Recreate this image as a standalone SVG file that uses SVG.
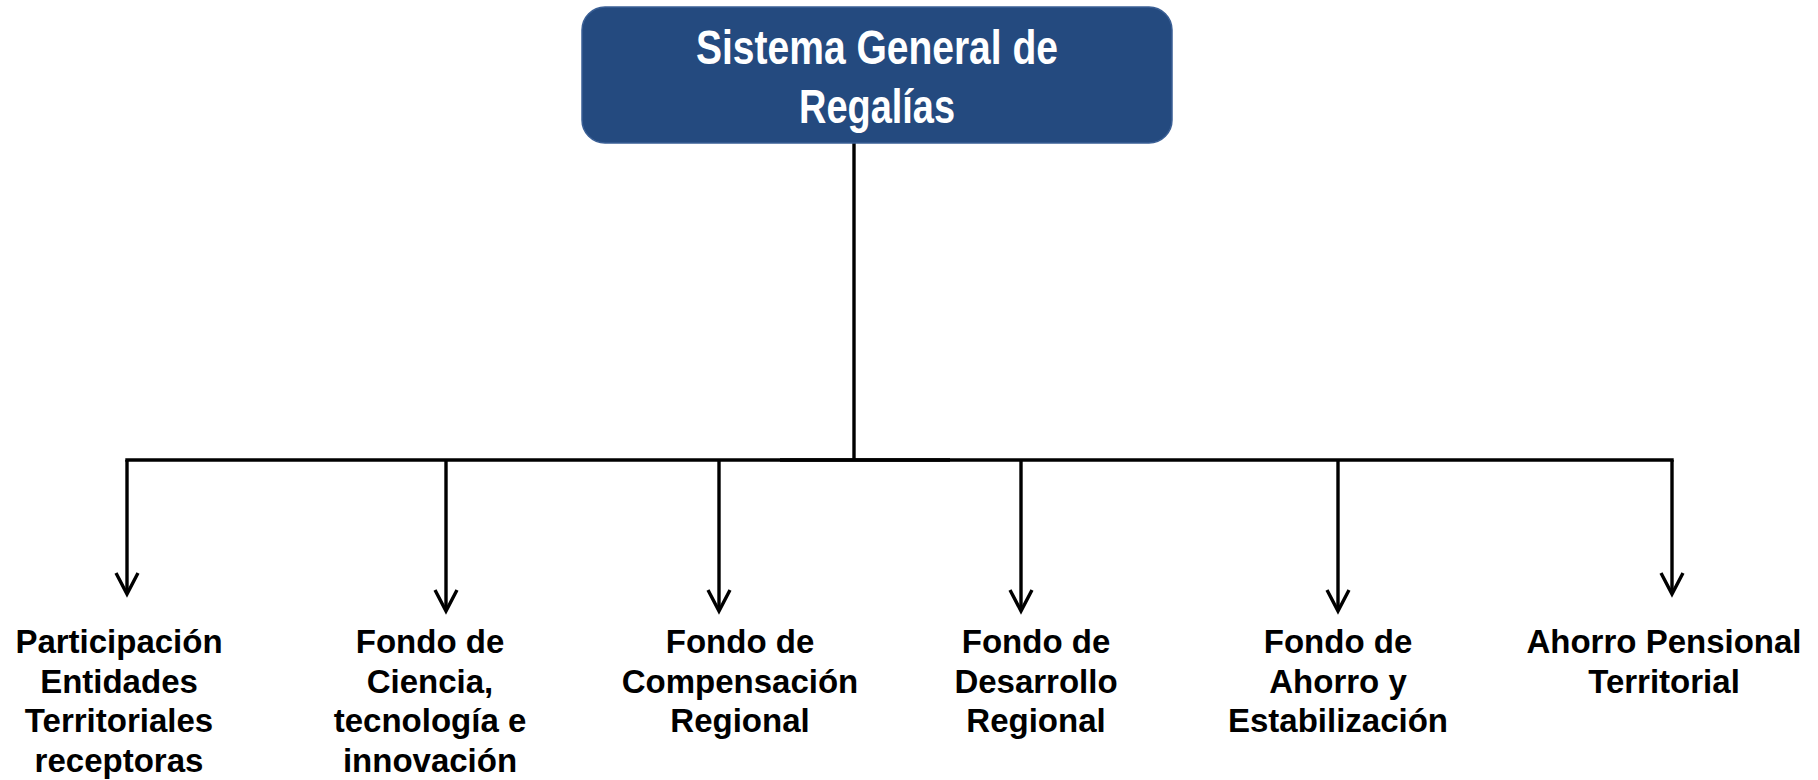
<svg xmlns="http://www.w3.org/2000/svg" width="1818" height="780" viewBox="0 0 1818 780">
  <style>
    .title { font-family: "Liberation Sans Narrow", "Arial Narrow", "Liberation Sans", Arial, sans-serif; font-weight: bold; font-size: 49px; fill: #ffffff; text-anchor: middle; }
    .label { font-family: "Liberation Sans", Arial, sans-serif; font-weight: bold; font-size: 33px; fill: #000000; text-anchor: middle; }
    .conn { stroke: #000000; stroke-width: 3.4; fill: none; }
    .arrow { stroke: #000000; stroke-width: 3.4; fill: none; marker-end: url(#open); }
  </style>
  <defs>
    <marker id="open" markerUnits="userSpaceOnUse" orient="auto" refX="-2" refY="0" markerWidth="30" markerHeight="30" viewBox="-25 -15 30 30" overflow="visible">
      <path d="M -21 -11 L 0 0 L -21 11" fill="none" stroke="#000000" stroke-width="3.4" stroke-linejoin="miter"/>
    </marker>
  </defs>
  <rect width="1818" height="780" fill="#ffffff"/>

  <g id="connectors">
    <line class="conn" x1="854" y1="143" x2="854" y2="460"/>
    <line class="conn" x1="127" y1="460" x2="1672" y2="460" stroke-linecap="square"/>
    <line class="conn" x1="780" y1="460" x2="950" y2="460" stroke-width="4.8"/>
    <line class="arrow" x1="127" y1="460" x2="127" y2="592"/>
    <line class="arrow" x1="446" y1="460" x2="446" y2="609"/>
    <line class="arrow" x1="719" y1="460" x2="719" y2="609"/>
    <line class="arrow" x1="1021" y1="460" x2="1021" y2="609"/>
    <line class="arrow" x1="1338" y1="460" x2="1338" y2="609"/>
    <line class="arrow" x1="1672" y1="460" x2="1672" y2="592"/>
  </g>

  <g id="root">
    <rect x="582" y="7" width="590" height="136" rx="23" ry="23" fill="#244A7F" stroke="#3A5F95" stroke-width="1.5"/>
    <text class="title" x="877" y="64" textLength="362" lengthAdjust="spacingAndGlyphs">Sistema General de</text>
    <text class="title" x="877" y="123" textLength="156" lengthAdjust="spacingAndGlyphs">Regalías</text>
  </g>

  <g id="participacion">
    <text class="label" x="119" y="653">Participación</text>
    <text class="label" x="119" y="692.5">Entidades</text>
    <text class="label" x="119" y="732">Territoriales</text>
    <text class="label" x="119" y="771.5">receptoras</text>
  </g>

  <g id="ciencia">
    <text class="label" x="430" y="653">Fondo de</text>
    <text class="label" x="430" y="692.5">Ciencia,</text>
    <text class="label" x="430" y="732">tecnología e</text>
    <text class="label" x="430" y="771.5">innovación</text>
  </g>

  <g id="compensacion">
    <text class="label" x="740" y="653">Fondo de</text>
    <text class="label" x="740" y="692.5">Compensación</text>
    <text class="label" x="740" y="732">Regional</text>
  </g>

  <g id="desarrollo">
    <text class="label" x="1036" y="653">Fondo de</text>
    <text class="label" x="1036" y="692.5">Desarrollo</text>
    <text class="label" x="1036" y="732">Regional</text>
  </g>

  <g id="ahorro">
    <text class="label" x="1338" y="653">Fondo de</text>
    <text class="label" x="1338" y="692.5">Ahorro y</text>
    <text class="label" x="1338" y="732">Estabilización</text>
  </g>

  <g id="pensional">
    <text class="label" x="1664" y="653">Ahorro Pensional</text>
    <text class="label" x="1664" y="692.5">Territorial</text>
  </g>
</svg>
